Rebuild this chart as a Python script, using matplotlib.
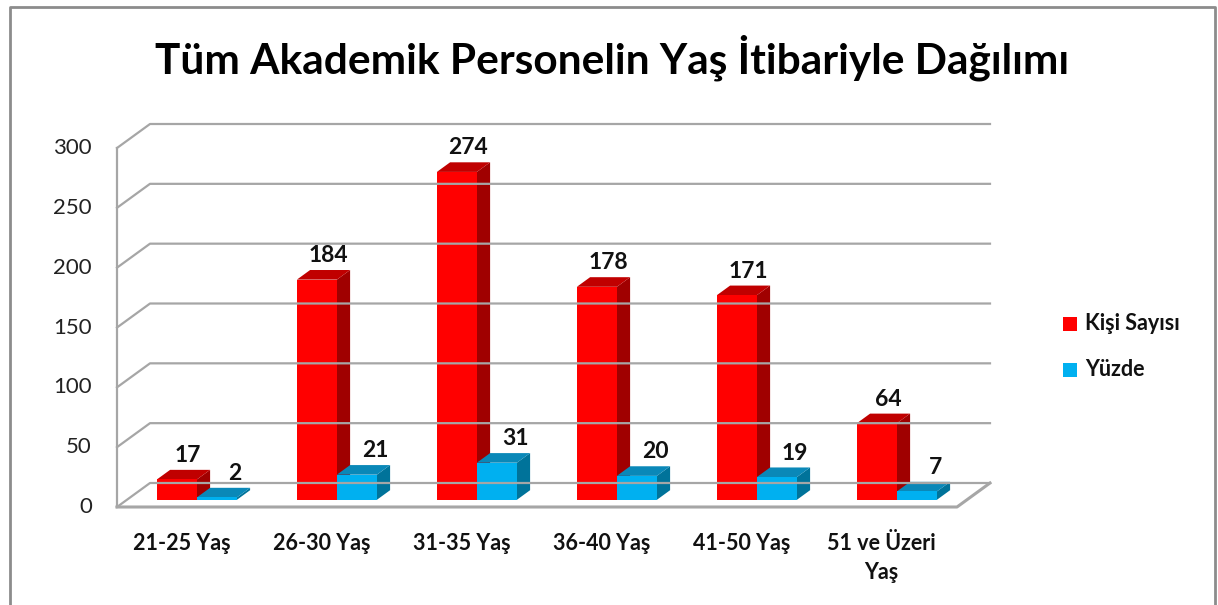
import matplotlib
matplotlib.use('Agg')
import matplotlib.pyplot as plt
from matplotlib.patches import Polygon, Rectangle
from matplotlib.lines import Line2D

plt.rcParams['font.family'] = ['Lato', 'DejaVu Sans']

categories = ['21-25 Yaş', '26-30 Yaş', '31-35 Yaş', '36-40 Yaş', '41-50 Yaş', '51 ve Üzeri\nYaş']
kisi = [17, 184, 274, 178, 171, 64]
yuzde = [2, 21, 31, 20, 19, 7]
series = ['Kişi Sayısı', 'Yüzde']
yticks = [0, 50, 100, 150, 200, 250, 300]

# colors: front, top, side
red = ('#ff0000', '#c00000', '#a00000')
blue = ('#00b0f0', '#0a88b8', '#00739a')
grid_c = '#a6a6a6'

W, H = 1218, 605
fig = plt.figure(figsize=(W / 100, H / 100), dpi=100)
ax = fig.add_axes([117 / W, (H - 507) / H, 840 / W, 359 / H])
ax.set_xlim(0, 6)
ax.set_ylim(0, 300)
ax.axis('off')

# depth of the floor in data units
DX, DY = 33 / 140, 24 * 300 / 359
f0, f1 = 0.3, 0.7
bw = 40 / 140
n = len(categories)

# walls and gridlines
for v in yticks:
    ax.add_line(Line2D([0, DX, n + DX], [v, v + DY, v + DY], color=grid_c, lw=1.6, clip_on=False))
    ax.text(-0.18, v, str(v), ha='right', va='center', fontsize=16, color='#222222')
ax.add_line(Line2D([0, 0], [0, 300], color=grid_c, lw=1.6, clip_on=False))
ax.add_line(Line2D([0, n, n + DX], [0, 0, DY], color=grid_c, lw=2.2, clip_on=False))


def bar3d(x0, v, cols):
    ox, oy = f0 * DX, f0 * DY
    ddx, ddy = (f1 - f0) * DX, (f1 - f0) * DY
    xl, xr = x0 + ox, x0 + ox + bw
    yb, yt = oy, oy + v
    ax.add_patch(Polygon([(xr, yb), (xr + ddx, yb + ddy), (xr + ddx, yt + ddy), (xr, yt)],
                         closed=True, facecolor=cols[2], edgecolor='none', clip_on=False))
    ax.add_patch(Polygon([(xl, yt), (xr, yt), (xr + ddx, yt + ddy), (xl + ddx, yt + ddy)],
                         closed=True, facecolor=cols[1], edgecolor='none', clip_on=False))
    ax.add_patch(Rectangle((xl, yb), bw, v, facecolor=cols[0], edgecolor='none', clip_on=False))


for i in range(n):
    xr0 = i + 0.5 - bw
    xb0 = i + 0.5
    bar3d(xr0, kisi[i], red)
    bar3d(xb0, yuzde[i], blue)
    ax.text(xr0 + f0 * DX + bw / 2 + 0.08, kisi[i] + f0 * DY + 20, str(kisi[i]),
            ha='center', va='center', fontsize=16.5, fontweight='bold', color='#111111')
    ax.text(xb0 + f0 * DX + bw / 2 + 0.13, yuzde[i] + f0 * DY + 20, str(yuzde[i]),
            ha='center', va='center', fontsize=16.5, fontweight='bold', color='#111111')
    ax.text(i + 0.46, -22, categories[i], ha='center', va='top', fontsize=15.5,
            fontweight='bold', color='#111111', linespacing=1.45)

# title
fig.text(612 / W, 1 - 58 / H, 'Tüm Akademik Personelin Yaş İtibariyle Dağılımı',
         ha='center', va='center', fontsize=30.5, fontweight='bold', color='#000000')

# legend
for k, (lab, col) in enumerate(zip(series, [red[0], blue[0]])):
    yc = 324 + k * 46
    fig.patches.append(Rectangle((1063 / W, 1 - (yc + 7) / H), 14 / W, 14 / H,
                                 transform=fig.transFigure, facecolor=col, edgecolor='none'))
    fig.text(1085 / W, 1 - yc / H, lab, ha='left', va='center', fontsize=15.5,
             fontweight='bold', color='#111111')

# outer chart border
fig.add_artist(Line2D([10 / W, 10 / W, 1215 / W, 1215 / W], [0, 1 - 7 / H, 1 - 7 / H, 0],
                      transform=fig.transFigure, color='#8c8c8c', lw=2))

fig.savefig('out.png', dpi=100, facecolor='white')
